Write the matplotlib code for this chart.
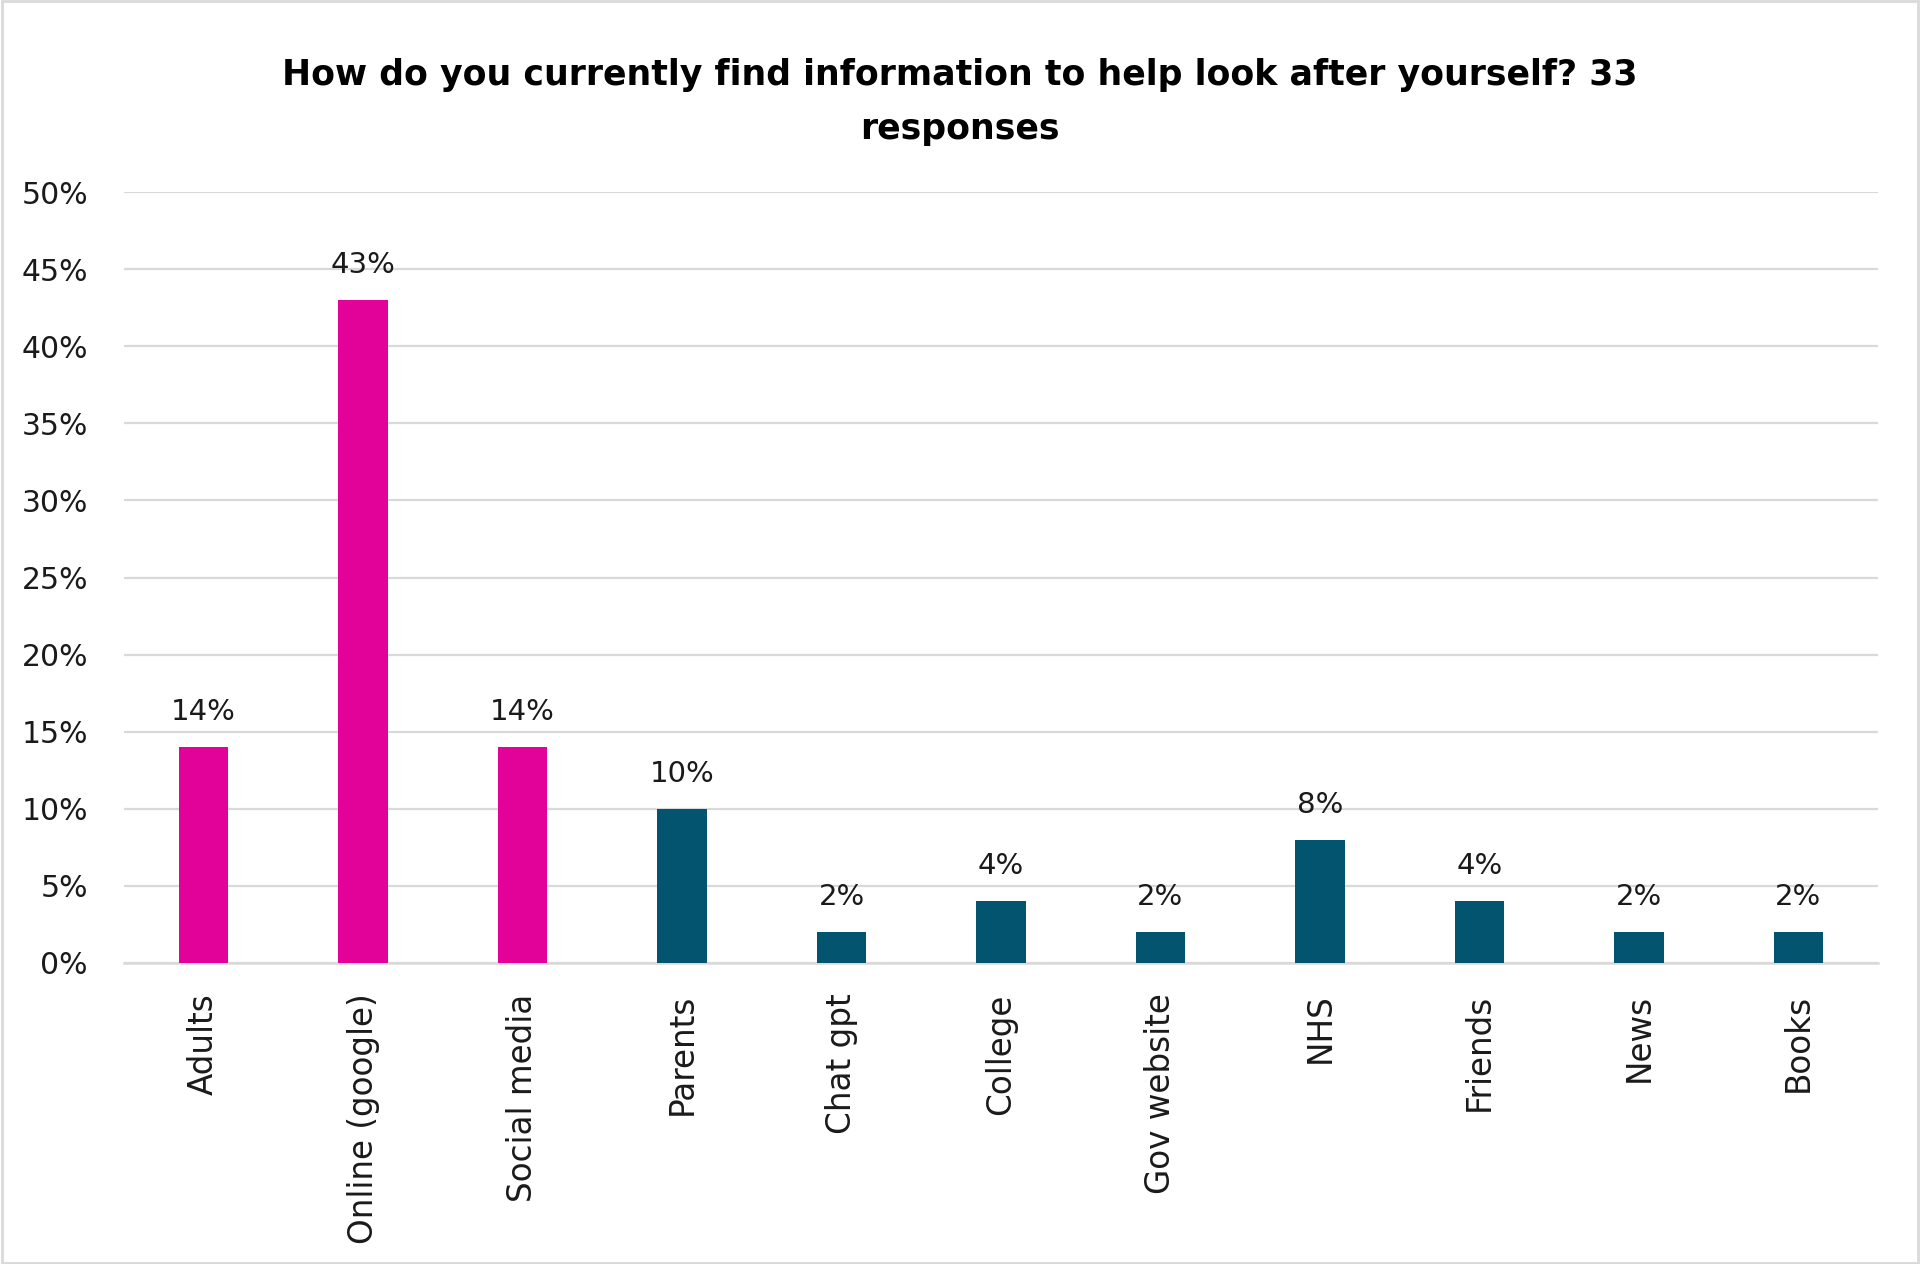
import matplotlib
matplotlib.use("Agg")
import matplotlib.pyplot as plt
from matplotlib.patches import Rectangle

# survey answers, share of 33 responses
categories = ['Adults', 'Online (google)', 'Social media', 'Parents', 'Chat gpt',
              'College', 'Gov website', 'NHS', 'Friends', 'News', 'Books']
shares = [0.14, 0.43, 0.14, 0.10, 0.02, 0.04, 0.02, 0.08, 0.04, 0.02, 0.02]
top_sources = ['Adults', 'Online (google)', 'Social media']

y_ticks = [0, 0.05, 0.10, 0.15, 0.20, 0.25, 0.30, 0.35, 0.40, 0.45, 0.50]

title = 'How do you currently find information to help look after yourself? 33\nresponses'

pink = '#E2029A'
teal = '#02546F'
grid_col = '#D9D9D9'

plt.rcParams['font.family'] = ['DejaVu Sans']

fig = plt.figure(figsize=(19.2, 12.64), dpi=100)
ax = fig.add_axes([124 / 1920, 1 - 963 / 1264, (1878 - 124) / 1920, (963 - 192) / 1264])

colours = [pink if c in top_sources else teal for c in categories]
x = list(range(len(categories)))
bars = ax.bar(x, shares, width=0.31, color=colours, zorder=3)

for xi, v in zip(x, shares):
    ax.annotate('{:.0%}'.format(v), (xi, v), xytext=(0, 15), textcoords='offset points',
                ha='center', va='bottom', fontsize=21, color='#1a1a1a')

ax.set_xlim(-0.5, len(categories) - 0.5)
ax.set_ylim(0, 0.5)
ax.set_yticks(y_ticks)
ax.set_yticklabels(['{:.0%}'.format(t) for t in y_ticks], fontsize=21.5)
ax.set_xticks(x)
ax.set_xticklabels(categories, rotation=90, va='top', ha='center', fontsize=23.5)

ax.yaxis.grid(True, color=grid_col, linewidth=1.6, zorder=0)
ax.set_axisbelow(True)
for s in ['top', 'right', 'left']:
    ax.spines[s].set_visible(False)
ax.spines['bottom'].set_color(grid_col)
ax.spines['bottom'].set_linewidth(1.8)
ax.tick_params(axis='both', length=0, colors='#1a1a1a')
ax.tick_params(axis='y', pad=26)
ax.tick_params(axis='x', pad=22)

fig.text(0.5, 1 - 102 / 1264, title, ha='center', va='center', fontsize=25,
         fontweight='bold', linespacing=1.75, color='black')

# light border round the whole picture
fig.patches.append(Rectangle((0.001, 0.001), 0.998, 0.998, transform=fig.transFigure,
                             fill=False, edgecolor=grid_col, linewidth=2))

fig.savefig('out.png', dpi=100, facecolor='white')
